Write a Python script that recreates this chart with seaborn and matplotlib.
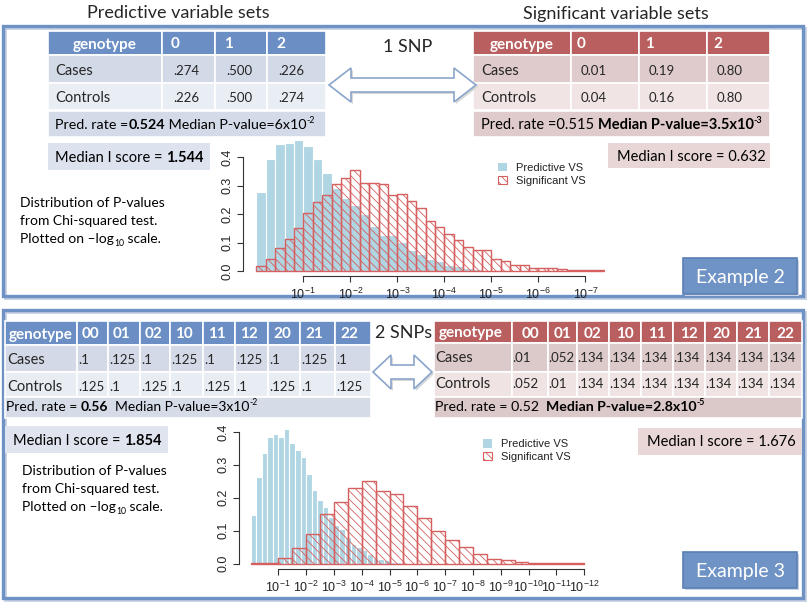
import numpy as np
import pandas as pd
import matplotlib
matplotlib.use("Agg")
import matplotlib.pyplot as plt
import seaborn as sns
from matplotlib.patches import Rectangle, Polygon, Patch

# ---------------- data ----------------
# Example 2 (1 SNP): densities of -log10(P), bins of width 0.2 starting at 0
ex2_bin_width = 0.2
ex2_pred_density = [0.278, 0.392, 0.447, 0.449, 0.460, 0.437, 0.392, 0.343, 0.290, 0.255,
                    0.231, 0.200, 0.157, 0.128, 0.126, 0.103, 0.073, 0.062, 0.044, 0.036,
                    0.021, 0.017, 0.012, 0.008, 0.006, 0.003]
ex2_sig_density = [0.017, 0.044, 0.082, 0.112, 0.153, 0.204, 0.241, 0.266, 0.307, 0.328,
                   0.353, 0.310, 0.310, 0.307, 0.268, 0.272, 0.246, 0.222, 0.175, 0.155,
                   0.132, 0.108, 0.085, 0.073, 0.073, 0.044, 0.036, 0.023, 0.023, 0.013,
                   0.013, 0.012, 0.009, 0.006, 0.005, 0.004, 0.003]
ex2_xticks = [1, 2, 3, 4, 5, 6, 7]

# Example 3 (2 SNPs)
ex3_pred_bin_width = 0.2
ex3_pred_density = [0.148, 0.263, 0.337, 0.385, 0.393, 0.386, 0.410, 0.365, 0.344, 0.324,
                    0.273, 0.224, 0.192, 0.173, 0.140, 0.118, 0.105, 0.080, 0.060, 0.050,
                    0.040, 0.030, 0.018, 0.013, 0.010, 0.006, 0.004, 0.003, 0.002, 0.001]
ex3_sig_bin_width = 0.5
ex3_sig_density = [0.001, 0.003, 0.018, 0.046, 0.089, 0.151, 0.187, 0.230, 0.252, 0.219,
                   0.212, 0.174, 0.138, 0.100, 0.071, 0.050, 0.029, 0.013, 0.010, 0.005,
                   0.003, 0.002, 0.001, 0.001]
ex3_xticks = [1, 2, 3, 4, 5, 6, 7, 8, 9, 10, 11, 12]

y_ticks = [0.0, 0.1, 0.2, 0.3, 0.4]
legend_labels = ["Predictive VS", "Significant VS"]

# tables
ex2_genotypes = ["0", "1", "2"]
ex2_pred_cases = [".274", ".500", ".226"]
ex2_pred_controls = [".226", ".500", ".274"]
ex2_sig_cases = ["0.01", "0.19", "0.80"]
ex2_sig_controls = ["0.04", "0.16", "0.80"]

ex3_genotypes = ["00", "01", "02", "10", "11", "12", "20", "21", "22"]
ex3_pred_cases = [".1", ".125", ".1", ".125", ".1", ".125", ".1", ".125", ".1"]
ex3_pred_controls = [".125", ".1", ".125", ".1", ".125", ".1", ".125", ".1", ".125"]
ex3_sig_cases = [".01", ".052", ".134", ".134", ".134", ".134", ".134", ".134", ".134"]
ex3_sig_controls = [".052", ".01", ".134", ".134", ".134", ".134", ".134", ".134", ".134"]

# ---------------- style ----------------
sns.set_theme(style="white")
plt.rcParams["font.family"] = ["Lato", "DejaVu Sans"]
plt.rcParams["mathtext.fontset"] = "custom"
plt.rcParams["mathtext.rm"] = "Liberation Sans"
plt.rcParams["mathtext.it"] = "Liberation Sans:italic"
plt.rcParams["mathtext.bf"] = "Liberation Sans:bold"
plt.rcParams["hatch.linewidth"] = 0.6

SLIDE = ["Lato", "DejaVu Sans"]
RFONT = ["Liberation Sans", "DejaVu Sans"]

BLUE_HEAD = "#6b8fc4"
RED_HEAD = "#b95f5f"
LIGHTBLUE = "#b0d6e4"
HATCH_RED = "#d5605f"

W, H = 810, 602
fig = plt.figure(figsize=(W / 100, H / 100), dpi=100)
ov = fig.add_axes([0, 0, 1, 1])
ov.set_xlim(0, W)
ov.set_ylim(H, 0)
ov.axis("off")
renderer = fig.canvas.get_renderer()

PX = 100 / 72.0
TXT = 10.5


def rect(x0, y0, x1, y1, fc, ec="none", lw=0, z=1):
    ov.add_patch(Rectangle((x0, y0), x1 - x0, y1 - y0, facecolor=fc, edgecolor=ec,
                           linewidth=lw, zorder=z))


def rich(x, yc, parts, size, color="black"):
    """Draw consecutive text parts; yc is the vertical centre of capitals."""
    base = yc + 0.36 * size * PX
    for s, weight, kind in parts:
        fs = size
        yy = base
        if kind == "sup":
            fs = size * 0.62
            yy = base - 0.42 * size * PX
        elif kind == "sub":
            fs = size * 0.62
            yy = base + 0.22 * size * PX
        t = ov.text(x, yy, s, fontsize=fs, fontweight=weight, ha="left", va="baseline",
                    color=color, family=SLIDE, zorder=5)
        bb = t.get_window_extent(renderer=renderer)
        x = bb.x1
    return x


def double_arrow(x0, x1, yc, body=7, head=17, hl=22):
    pts = [(x0, yc), (x0 + hl, yc - head), (x0 + hl, yc - body), (x1 - hl, yc - body),
           (x1 - hl, yc - head), (x1, yc), (x1 - hl, yc + head), (x1 - hl, yc + body),
           (x0 + hl, yc + body), (x0 + hl, yc + head)]
    sh = [(px + 2, py + 2) for px, py in pts]
    ov.add_patch(Polygon(sh, closed=True, facecolor="#d8d8d8", edgecolor="none", zorder=2))
    ov.add_patch(Polygon(pts, closed=True, facecolor="white", edgecolor="#8aa5cb",
                         linewidth=1.2, zorder=3))


def table(col_edges, rows_y, header, rows, head_color, row_colors, head_center=False,
          head_off=8, val_off=10, lab_off=7, head_size=11, lab_size=11, val_size=9.5):
    for i in range(len(col_edges) - 1):
        rect(col_edges[i], rows_y[0], col_edges[i + 1], rows_y[1], head_color, "white", 1.2)
    yc = (rows_y[0] + rows_y[1]) / 2
    base = yc + 0.36 * head_size * PX
    if head_center:
        ov.text(col_edges[0] + lab_off + 4, base, "genotype", color="white", fontweight="bold",
                fontsize=head_size, ha="left", va="baseline", family=SLIDE, zorder=5)
    else:
        ov.text((col_edges[0] + col_edges[1]) / 2, base, "genotype", color="white",
                fontweight="bold", fontsize=head_size, ha="center", va="baseline",
                family=SLIDE, zorder=5)
    for i, g in enumerate(header):
        xa, xb = col_edges[i + 1], col_edges[i + 2]
        if head_center:
            ov.text((xa + xb) / 2, base, g, color="white", fontweight="bold",
                    fontsize=head_size, ha="center", va="baseline", family=SLIDE, zorder=5)
        else:
            ov.text(xa + head_off, base, g, color="white", fontweight="bold",
                    fontsize=head_size, ha="left", va="baseline", family=SLIDE, zorder=5)
    for r, (label, vals, tyc) in enumerate(rows):
        y0, y1 = rows_y[r + 1], rows_y[r + 2]
        for i in range(len(col_edges) - 1):
            rect(col_edges[i], y0, col_edges[i + 1], y1, row_colors[r], "white", 1.2)
        ov.text(col_edges[0] + lab_off, tyc + 0.36 * lab_size * PX, label, fontsize=lab_size,
                ha="left", va="baseline", family=SLIDE, zorder=5)
        for i, v in enumerate(vals):
            ov.text(col_edges[i + 1] + val_off, tyc + 0.36 * val_size * PX, v,
                    fontsize=val_size, ha="left", va="baseline", family=SLIDE, zorder=5)


# ---------------- frames ----------------
for (y0, y1) in [(26, 296), (310, 598)]:
    ov.add_patch(Rectangle((4.5, y0 + 1.5), 800, y1 - y0, facecolor="none",
                           edgecolor="#c3cfe2", linewidth=2.0, zorder=1))
    ov.add_patch(Rectangle((3, y0), 800, y1 - y0, facecolor="none",
                           edgecolor="#6f92c4", linewidth=2.4, zorder=1))

# titles
ov.text(178, 12 + 0.36 * 13 * PX, "Predictive variable sets", fontsize=13, ha="center",
        va="baseline", family=SLIDE)
ov.text(616, 12 + 0.36 * 13 * PX, "Significant variable sets", fontsize=13, ha="center",
        va="baseline", family=SLIDE)

# ---------------- Example 2 tables ----------------
table([48, 162, 215, 267, 326], [31, 55, 83, 110, 137], ex2_genotypes,
      [("Cases", ex2_pred_cases, 70), ("Controls", ex2_pred_controls, 97)],
      BLUE_HEAD, ["#d2d9e7", "#e9edf4"], head_off=9, val_off=11, lab_off=7,
      lab_size=10.5, val_size=9.5)
rect(48, 111, 326, 137, "#d4dbe8", "white", 1.2)
rich(55, 124, [("Pred. rate =", "normal", ""), ("0.524", "bold", ""),
               (" Median P-value=6x10", "normal", ""), ("-2", "normal", "sup")], 10.3)
rect(48, 143, 210, 170, "#dce2ee")
rich(55, 157, [("Median I score = ", "normal", ""), ("1.544", "bold", "")], TXT)

table([473, 571, 639, 707, 770], [31, 55, 83, 110, 137], ex2_genotypes,
      [("Cases", ex2_sig_cases, 70), ("Controls", ex2_sig_controls, 97)],
      RED_HEAD, ["#dfcbcb", "#f0e4e4"], head_off=6, val_off=10, lab_off=8,
      lab_size=10.5, val_size=9.5)
rect(473, 111, 770, 137, "#dfcbcb", "white", 1.2)
rich(481, 124, [("Pred. rate =0.515 ", "normal", ""), ("Median P-value=3.5x10", "bold", ""),
                ("-3", "bold", "sup")], 10.5)
rect(608, 143, 770, 168, "#e8d6d6")
rich(617, 156, [("Median I score = 0.632", "normal", "")], TXT)

ov.text(383, 45 + 0.36 * 13 * PX, "1 SNP", fontsize=13, ha="left", va="baseline", family=SLIDE)
double_arrow(329, 476, 85)

for i, line in enumerate(["Distribution of P-values", "from Chi-squared test."]):
    rich(20, 202 + 18 * i, [(line, "normal", "")], 10)
rich(20, 238, [("Plotted on \u2013log", "normal", ""), ("10", "normal", "sub"),
               (" scale.", "normal", "")], 10)

# ---------------- Example 3 tables ----------------
table([5, 77, 108, 140, 170, 203, 235, 268, 300, 335, 371], [321, 345, 372, 397, 418],
      ex3_genotypes,
      [("Cases", ex3_pred_cases, 359), ("Controls", ex3_pred_controls, 386)],
      BLUE_HEAD, ["#d3d9e6", "#e8ecf3"], head_off=5, val_off=1, lab_off=2,
      lab_size=10.5, val_size=9.5)
rect(5, 397, 371, 418, "#d5dbe7", "white", 1.2)
rich(6, 406, [("Pred. rate = ", "normal", ""), ("0.56", "bold", ""),
              ("  Median P-value=3x10", "normal", ""), ("-2", "normal", "sup")], 10)
rect(5, 426, 168, 453, "#dfe4ee")
rich(13, 440, [("Median I score = ", "normal", ""), ("1.854", "bold", "")], TXT)

table([434, 512, 548, 577, 609, 641, 673, 705, 737, 769, 802], [321, 343, 372, 397, 418],
      ex3_genotypes,
      [("Cases", ex3_sig_cases, 357), ("Controls", ex3_sig_controls, 383)],
      RED_HEAD, ["#dccaca", "#efe3e3"], head_center=True, val_off=0, lab_off=1,
      lab_size=10.5, val_size=9.5)
rect(434, 397, 802, 418, "#dbc8c8", "white", 1.2)
rich(435, 406, [("Pred. rate = 0.52  ", "normal", ""), ("Median P-value=2.8x10", "bold", ""),
                ("-5", "bold", "sup")], 10.2)
rect(638, 428, 802, 455, "#e9d6d6")
rich(647, 441, [("Median I score = 1.676", "normal", "")], TXT)

ov.text(375, 331 + 0.36 * 13 * PX, "2 SNPs", fontsize=13, ha="left", va="baseline", family=SLIDE)
double_arrow(373, 432, 372, body=7, head=17, hl=18)

for i, line in enumerate(["Distribution of P-values", "from Chi-squared test."]):
    rich(22, 470 + 18 * i, [(line, "normal", "")], 10)
rich(22, 506, [("Plotted on \u2013log", "normal", ""), ("10", "normal", "sub"),
               (" scale.", "normal", "")], 10)

# Example boxes
for yb, lab in [(258, "Example 2"), (552, "Example 3")]:
    ov.add_patch(Rectangle((685, yb + 2), 114, 36, facecolor="#c9d3e3", edgecolor="none", zorder=2))
    ov.add_patch(Rectangle((683, yb), 114, 36, facecolor="#6f93c4", edgecolor="#5a7fb5",
                           linewidth=1.2, zorder=3))
    ov.text(740, yb + 18 + 0.36 * 14 * PX, lab, fontsize=14, color="white", ha="center",
            va="baseline", family=SLIDE, zorder=4)


# ---------------- histograms ----------------
def hist_axes(L, R, T, B, x0px, px_per_unit_x, y0px, px_per_unit_y):
    ax = fig.add_axes([L / W, 1 - B / H, (R - L) / W, (B - T) / H])
    ax.set_facecolor("none")
    xlim = ((L - x0px) / px_per_unit_x, (R - x0px) / px_per_unit_x)
    ylim = (-(B - y0px) / px_per_unit_y, (y0px - T) / px_per_unit_y)
    return ax, xlim, ylim


def draw_hist(ax, heights, width, **kw):
    n = len(heights)
    centers = (np.arange(n) + 0.5) * width
    df = pd.DataFrame({"x": centers, "w": heights})
    sns.histplot(data=df, x="x", weights="w", binwidth=width, binrange=(0, n * width),
                 stat="count", ax=ax, **kw)


def style_axis(ax, xlim, ylim, xticks):
    ax.set_xlim(*xlim)
    ax.set_ylim(*ylim)
    ax.set_xlabel("")
    ax.set_ylabel("")
    for s in ["top", "right"]:
        ax.spines[s].set_visible(False)
    for s in ["left", "bottom"]:
        ax.spines[s].set_color("#333333")
        ax.spines[s].set_linewidth(0.8)
    ax.spines["left"].set_bounds(y_ticks[0], y_ticks[-1])
    ax.spines["bottom"].set_bounds(xticks[0], xticks[-1])
    ax.set_xticks(xticks)
    ax.set_xticklabels([r"$10^{-%d}$" % k for k in xticks])
    ax.set_yticks(y_ticks)
    ax.set_yticklabels(["%.1f" % v for v in y_ticks], rotation=90, va="center",
                       family=RFONT)
    ax.tick_params(axis="both", direction="out", length=4.5, width=0.8, color="#333333",
                   labelsize=9, labelcolor="#222222", left=True, bottom=True)
    ax.tick_params(axis="x", pad=2.5)
    ax.tick_params(axis="y", pad=2.5)
    ax.grid(False)


def add_legend(ax, xpx, ypx):
    handles = [Patch(facecolor=LIGHTBLUE, edgecolor="none"),
               Patch(facecolor="white", edgecolor=HATCH_RED, hatch="\\\\\\\\", linewidth=0.8)]
    leg = ax.legend(handles, legend_labels, loc="upper left",
                    bbox_to_anchor=(xpx / W, 1 - ypx / H), bbox_transform=fig.transFigure,
                    frameon=False, handlelength=0.8, handleheight=0.8,
                    handletextpad=0.8, labelspacing=0.25, borderpad=0, borderaxespad=0,
                    prop={"family": RFONT, "size": 8})
    for t in leg.get_texts():
        t.set_color("#222222")


# Example 2
ax2, xl2, yl2 = hist_axes(243, 605, 138, 276, 256.3, 47.0, 271.3, 285.75)
draw_hist(ax2, ex2_pred_density, ex2_bin_width, color=LIGHTBLUE, alpha=1,
          edgecolor="white", linewidth=0.8)
draw_hist(ax2, ex2_sig_density, ex2_bin_width, fill=False, color=HATCH_RED,
          linewidth=1.0, hatch="\\\\\\\\")
style_axis(ax2, xl2, yl2, ex2_xticks)
add_legend(ax2, 498, 163)

# Example 3
ax3, xl3, yl3 = hist_axes(239, 600, 420, 569.3, 250.5, 27.8, 563.5, 329.0)
draw_hist(ax3, ex3_pred_density, ex3_pred_bin_width, color=LIGHTBLUE, alpha=1,
          edgecolor="white", linewidth=0.8)
draw_hist(ax3, ex3_sig_density, ex3_sig_bin_width, fill=False, color=HATCH_RED,
          linewidth=1.0, hatch="\\\\\\\\")
style_axis(ax3, xl3, yl3, ex3_xticks)
add_legend(ax3, 483, 439)

fig.savefig("out.png", dpi=100)
